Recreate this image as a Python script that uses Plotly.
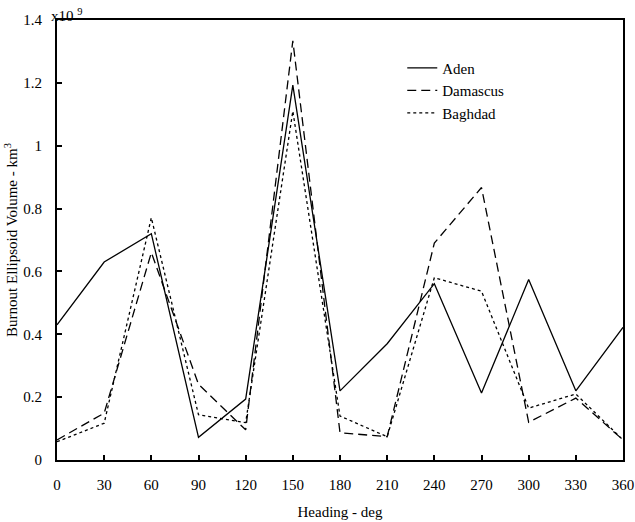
import plotly.graph_objects as go

heading = [0, 30, 60, 90, 120, 150, 180, 210, 240, 270, 300, 330, 360]
aden = [0.43, 0.63, 0.72, 0.072, 0.194, 1.193, 0.22, 0.37, 0.561, 0.213, 0.574, 0.22, 0.422]
damascus = [0.064, 0.149, 0.66, 0.241, 0.096, 1.334, 0.087, 0.074, 0.69, 0.867, 0.12, 0.197, 0.064]
baghdad = [0.058, 0.117, 0.771, 0.144, 0.119, 1.11, 0.14, 0.074, 0.58, 0.537, 0.165, 0.21, 0.064]

x_ticks = list(range(0, 361, 30))
y_ticks = [0, 0.2, 0.4, 0.6, 0.8, 1.0, 1.2, 1.4]
y_tick_labels = ["0", "0.2", "0.4", "0.6", "0.8", "1", "1.2", "1.4"]

font = "Liberation Serif"
fs = 15

fig = go.Figure()
fig.add_trace(go.Scatter(x=heading, y=aden, mode="lines", name="Aden",
                         line=dict(color="black", width=1.3, dash="solid")))
fig.add_trace(go.Scatter(x=heading, y=damascus, mode="lines", name="Damascus",
                         line=dict(color="black", width=1.3, dash="9px,5px")))
fig.add_trace(go.Scatter(x=heading, y=baghdad, mode="lines", name="Baghdad",
                         line=dict(color="black", width=1.3, dash="3px,3px")))

fig.update_layout(
    width=635, height=522,
    margin=dict(l=57, r=12, t=20, b=62),
    paper_bgcolor="white", plot_bgcolor="white",
    font=dict(family=font, size=fs, color="black"),
    showlegend=True,
    legend=dict(x=0.61, y=0.928, xanchor="left", yanchor="top",
                bgcolor="rgba(0,0,0,0)", font=dict(family=font, size=fs),
                tracegroupgap=0, itemwidth=30),
    xaxis=dict(range=[0, 360], tickmode="array", tickvals=x_ticks,
               ticks="inside", ticklen=5, tickwidth=1.5, tickcolor="black",
               showline=True, linecolor="black", linewidth=2, mirror=True,
               showgrid=False, zeroline=False, ticklabelstandoff=10, automargin=False,
               title=dict(text="Heading - deg", font=dict(family=font, size=fs), standoff=14),
               tickfont=dict(family=font, size=fs)),
    yaxis=dict(range=[0, 1.4], tickmode="array", tickvals=y_ticks, ticktext=y_tick_labels,
               ticks="inside", ticklen=5, tickwidth=1.5, tickcolor="black",
               showline=True, linecolor="black", linewidth=2, mirror=True,
               showgrid=False, zeroline=False, ticklabelstandoff=10, automargin=False,
               title=dict(text="Burnout Ellipsoid Volume - km<sup>3</sup>",
                          font=dict(family=font, size=fs), standoff=2),
               tickfont=dict(family=font, size=fs)),
    annotations=[dict(text="x10 <sup>9</sup>", xref="paper", yref="paper", x=0, y=1,
                      xanchor="left", yanchor="bottom", showarrow=False,
                      font=dict(family=font, size=fs), yshift=-6, xshift=-8)],
)

fig.write_html("out.html")
